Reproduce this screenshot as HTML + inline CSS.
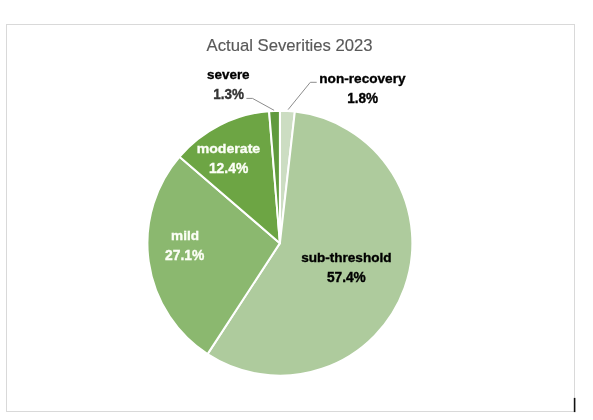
<!DOCTYPE html>
<html><head><meta charset="utf-8"><style>
html,body{margin:0;padding:0;background:#fff;width:593px;height:420px;overflow:hidden}
svg{display:block;will-change:transform}
text{font-family:"Liberation Sans",sans-serif}
</style></head><body>
<svg width="593" height="420" viewBox="0 0 593 420">
<rect x="6.5" y="24.5" width="568" height="387" fill="#fff" stroke="#d9d9d9" stroke-width="1"/>
<rect x="573.8" y="397.9" width="1.6" height="14.2" fill="#111"/>
<text x="206.60" y="51.2" font-size="17" textLength="166.00" lengthAdjust="spacingAndGlyphs" fill="#595959" stroke="#595959" stroke-width="0.15">Actual Severities 2023</text>
<g stroke="#fff" stroke-width="2" stroke-linejoin="round">
<path d="M279.9,243.15 L279.90,110.70 A132.45,132.45 0 0 1 294.85,111.55 Z" fill="#CCDDC2"/>
<path d="M279.9,243.15 L294.85,111.55 A132.45,132.45 0 1 1 207.53,354.08 Z" fill="#AECB9D"/>
<path d="M279.9,243.15 L207.53,354.08 A132.45,132.45 0 0 1 179.45,156.81 Z" fill="#8BB86F"/>
<path d="M279.9,243.15 L179.45,156.81 A132.45,132.45 0 0 1 269.09,111.14 Z" fill="#6DA544"/>
<path d="M279.9,243.15 L269.09,111.14 A132.45,132.45 0 0 1 279.90,110.70 Z" fill="#609A3E"/>
</g>
<g fill="none" stroke="#8c8c8c" stroke-width="1">
<polyline points="246.4,98.4 252.5,98.4 274.1,110.3"/>
<polyline points="316.7,82.3 310.3,82.3 288.1,109.6"/>
</g>
<g font-weight="bold" font-size="14" stroke-width="0.35">
<text x="207.10" y="78.7" font-size="13.2" textLength="42.49" lengthAdjust="spacingAndGlyphs" fill="#000" stroke="#000">severe</text>
<text x="213.20" y="98.9" font-size="14" textLength="30.81" lengthAdjust="spacingAndGlyphs" fill="#333" stroke="#333">1.3%</text>
<text x="319.30" y="82.8" font-size="13.2" textLength="86.28" lengthAdjust="spacingAndGlyphs" fill="#000" stroke="#000">non-recovery</text>
<text x="347.20" y="102.8" font-size="14" textLength="30.91" lengthAdjust="spacingAndGlyphs" fill="#000" stroke="#000">1.8%</text>
<text x="196.70" y="152.8" font-size="13.2" textLength="63.52" lengthAdjust="spacingAndGlyphs" fill="#fcfef6" stroke="#fcfef6">moderate</text>
<text x="208.90" y="172.8" font-size="14" textLength="39.40" lengthAdjust="spacingAndGlyphs" fill="#fcfef6" stroke="#fcfef6">12.4%</text>
<text x="171.10" y="239.6" font-size="13.2" textLength="27.88" lengthAdjust="spacingAndGlyphs" fill="#fcfef6" stroke="#fcfef6">mild</text>
<text x="165.10" y="259.9" font-size="14" textLength="39.30" lengthAdjust="spacingAndGlyphs" fill="#fcfef6" stroke="#fcfef6">27.1%</text>
<text x="301.20" y="262.1" font-size="13.2" textLength="90.30" lengthAdjust="spacingAndGlyphs" fill="#000" stroke="#000">sub-threshold</text>
<text x="326.90" y="281.6" font-size="14" textLength="38.90" lengthAdjust="spacingAndGlyphs" fill="#000" stroke="#000">57.4%</text>
</g>
</svg>
</body></html>
